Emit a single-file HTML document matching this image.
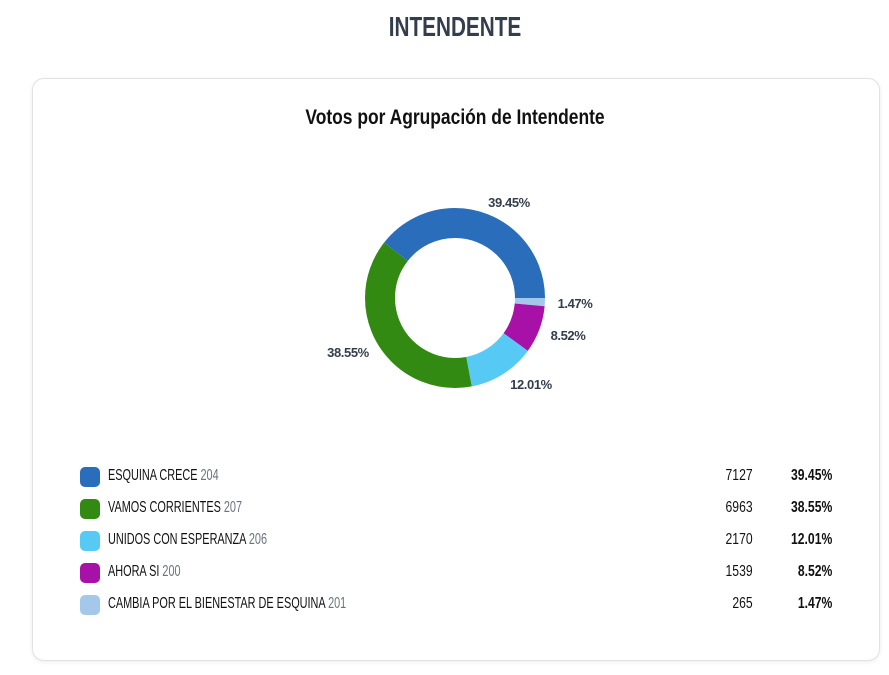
<!DOCTYPE html>
<html><head><meta charset="utf-8"><style>
body{margin:0;width:889px;height:675px;background:#fff;font-family:"Liberation Sans",sans-serif;position:relative;overflow:hidden}
.h{position:absolute;top:11px;left:0;width:910px;text-align:center;font-size:28px;font-weight:bold;color:#333d4d;transform:scaleX(0.74);transform-origin:455px 0}
.card{position:absolute;left:32px;top:78px;width:846px;height:581px;border:1px solid #e2e2e2;border-radius:12px;box-shadow:0 1px 4px rgba(0,0,0,0.08)}
.t{position:absolute;top:106px;left:0;width:910px;text-align:center;font-size:21px;font-weight:bold;color:#111;transform:scaleX(0.83);transform-origin:455px 0}
.row{position:absolute;left:80px;width:752px;height:22px;font-size:16px;color:#111}
.sw{position:absolute;left:0;top:0;width:20px;height:20px;border-radius:5px}
.nm{position:absolute;left:28px;top:0;white-space:nowrap;transform:scaleX(0.68);transform-origin:0 0}
.nm span{color:#6b7280}
.v{position:absolute;right:79px;top:0;transform:scaleX(0.76);transform-origin:100% 0}
.p{position:absolute;right:0;top:0;font-weight:bold;transform:scaleX(0.76);transform-origin:100% 0}
</style></head><body>
<div class="h">INTENDENTE</div>
<div class="card"></div>
<div class="t">Votos por Agrupación de Intendente</div>
<svg width="889" height="675" style="position:absolute;left:0;top:0">
<g fill="none" stroke-width="30">
<circle cx="455" cy="298" r="75" stroke="#a4c8ea" stroke-dasharray="6.93 500" stroke-dashoffset="0"/>
<circle cx="455" cy="298" r="75" stroke="#a811a8" stroke-dasharray="40.15 500" stroke-dashoffset="-6.93"/>
<circle cx="455" cy="298" r="75" stroke="#56c9f5" stroke-dasharray="56.60 500" stroke-dashoffset="-47.08"/>
<circle cx="455" cy="298" r="75" stroke="#338a12" stroke-dasharray="181.66 500" stroke-dashoffset="-103.68"/>
<circle cx="455" cy="298" r="75" stroke="#2a6ebb" stroke-dasharray="185.90 500" stroke-dashoffset="-285.34"/>
</g>
<g font-family="Liberation Sans, sans-serif" font-size="13" font-weight="bold" fill="#333d4d" text-anchor="middle" letter-spacing="-0.4">
<text x="509" y="207">39.45%</text>
<text x="575" y="308">1.47%</text>
<text x="568" y="340">8.52%</text>
<text x="531" y="389">12.01%</text>
<text x="348" y="357">38.55%</text>
</g>
</svg>
<div class="row" style="top:467px"><div class="sw" style="background:#2a6ebb"></div><div class="nm">ESQUINA CRECE <span>204</span></div><div class="v">7127</div><div class="p">39.45%</div></div>
<div class="row" style="top:499px"><div class="sw" style="background:#338a12"></div><div class="nm">VAMOS CORRIENTES <span>207</span></div><div class="v">6963</div><div class="p">38.55%</div></div>
<div class="row" style="top:531px"><div class="sw" style="background:#56c9f5"></div><div class="nm">UNIDOS CON ESPERANZA <span>206</span></div><div class="v">2170</div><div class="p">12.01%</div></div>
<div class="row" style="top:563px"><div class="sw" style="background:#a811a8"></div><div class="nm">AHORA SI <span>200</span></div><div class="v">1539</div><div class="p">8.52%</div></div>
<div class="row" style="top:595px"><div class="sw" style="background:#a4c8ea"></div><div class="nm">CAMBIA POR EL BIENESTAR DE ESQUINA <span>201</span></div><div class="v">265</div><div class="p">1.47%</div></div>
</body></html>
